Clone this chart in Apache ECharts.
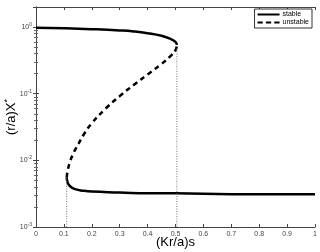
<!DOCTYPE html>
<html>
<head>
<meta charset="utf-8">
<script src="https://cdn.jsdelivr.net/npm/echarts@6/dist/echarts.min.js"></script>
<style>
html,body{margin:0;padding:0;background:#fff;}
#main{width:320px;height:252px;}
</style>
</head>
<body>
<div id="main"></div>
<script>
// x ticks
var xTicks = [0, 0.1, 0.2, 0.3, 0.4, 0.5, 0.6, 0.7, 0.8, 0.9, 1];
// upper stable branch
var stableUpX = [0, 0.1, 0.2, 0.3, 0.35, 0.4, 0.45, 0.48, 0.5, 0.505];
var stableUpY = [0.98, 0.96, 0.93, 0.89, 0.86, 0.81, 0.74, 0.67, 0.6, 0.54];
// lower stable branch
var stableLowX = [0.11, 0.112, 0.116, 0.125, 0.14, 0.17, 0.2, 0.3, 0.4, 0.5, 0.7, 0.9, 1];
var stableLowY = [0.0055, 0.0049, 0.0044, 0.0040, 0.0037, 0.0035, 0.0034, 0.0033, 0.0032, 0.0032, 0.0031, 0.0031, 0.0031];
// unstable branch
var unstableX = [0.11, 0.113, 0.12, 0.133, 0.15, 0.17, 0.2, 0.25, 0.3, 0.35, 0.4, 0.45, 0.48, 0.5, 0.505];
var unstableY = [0.0055, 0.0068, 0.009, 0.0125, 0.017, 0.024, 0.036, 0.06, 0.092, 0.135, 0.195, 0.28, 0.36, 0.45, 0.54];
// fold points (dotted guides)
var foldX = [0.11, 0.505];
var foldY = [0.0055, 0.54];

function zip(a, b) { return a.map(function (v, i) { return [v, b[i]]; }); }

var chart = echarts.init(document.getElementById('main'));
var font = 'Liberation Sans, Arial, sans-serif';
var supRich = {
  b: { fontSize: 7, color: '#444', fontFamily: font },
  s: { fontSize: 5, color: '#444', fontFamily: font, verticalAlign: 'top', padding: [0, 0, 5, 0] }
};
var axLine = { show: true, lineStyle: { color: '#444', width: 1 } };
var axTick = { show: true, inside: true, length: 3, lineStyle: { color: '#444' } };

var option = {
  animation: false,
  backgroundColor: '#fff',
  grid: { left: 36, right: 5, top: 7, bottom: 25, containLabel: false, outerBoundsMode: 'none' },
  legend: {
    right: 8, top: 9,
    orient: 'vertical',
    itemWidth: 22, itemHeight: 6, itemGap: 1,
    padding: [2, 3, 2, 3],
    borderColor: '#000', borderWidth: 0.8,
    backgroundColor: '#fff',
    textStyle: { fontSize: 7, color: '#000', fontFamily: font, padding: [0, 0, 0, -2] },
    data: [
      { name: 'stable', icon: 'path://M0,0H22V2H0Z' },
      { name: 'unstable', icon: 'path://M0,0H5V2H0ZM8,0H13V2H8ZM16,0H21V2H16Z' }
    ]
  },
  xAxis: [{
    type: 'value', min: 0, max: 1, interval: 0.1,
    name: '(Kr/a)s', nameLocation: 'middle', nameGap: 9, nameMoveOverlap: false,
    nameTextStyle: { fontSize: 13, color: '#000', fontFamily: font },
    axisLine: axLine, axisTick: axTick,
    axisLabel: { fontSize: 7, color: '#444', fontFamily: font, margin: 4,
      formatter: function (v) { return xTicks.indexOf(+v.toFixed(1)) >= 0 ? String(+v.toFixed(1)) : ''; } },
    splitLine: { show: false }
  }, {
    type: 'value', min: 0, max: 1, interval: 0.1, position: 'top',
    axisLine: axLine, axisTick: axTick,
    axisLabel: { show: false }, splitLine: { show: false }
  }],
  yAxis: [{
    type: 'log', logBase: 10, min: 0.001, max: 2, interval: 1,
    name: '{a|(r/a)X}{s|*}', nameLocation: 'middle', nameGap: 16, nameMoveOverlap: false,
    nameTextStyle: {
      rich: {
        a: { fontSize: 13, color: '#000', fontFamily: font },
        s: { fontSize: 9, color: '#000', fontFamily: font, verticalAlign: 'top', padding: [0, 0, 8, 0] }
      }
    },
    axisLine: axLine, axisTick: axTick,
    minorTick: { show: true, splitNumber: 9, length: 2, lineStyle: { color: '#666' } },
    axisLabel: { margin: 4, showMaxLabel: false, rich: supRich,
      formatter: function (v) {
        var e = Math.round(Math.log10(v));
        if (Math.abs(Math.log10(v) - e) > 1e-6) return '';
        return '{b|10}{s|' + e + '}';
      } },
    splitLine: { show: false }
  }, {
    type: 'log', logBase: 10, min: 0.001, max: 2, interval: 1, position: 'right',
    axisLine: axLine, axisTick: axTick,
    minorTick: { show: true, splitNumber: 9, length: 2, lineStyle: { color: '#666' } },
    axisLabel: { show: false }, splitLine: { show: false }
  }],
  series: [{
    name: 'stable', type: 'line', showSymbol: false, smooth: true,
    data: zip(stableUpX, stableUpY),
    lineStyle: { color: '#000', width: 2.5 }, itemStyle: { color: '#000' }
  }, {
    name: 'stable', type: 'line', showSymbol: false, smooth: true,
    data: zip(stableLowX, stableLowY),
    lineStyle: { color: '#000', width: 2.5 }, itemStyle: { color: '#000' }
  }, {
    name: 'unstable', type: 'line', showSymbol: false, smooth: true,
    data: zip(unstableX, unstableY),
    lineStyle: { color: '#000', width: 2.5, type: [5, 4] }, itemStyle: { color: '#000' }
  }, {
    name: 'fold1', type: 'line', showSymbol: false,
    data: [[foldX[0], 0.001], [foldX[0], foldY[0]]],
    lineStyle: { color: '#777', width: 1, type: [1, 1.5] }
  }, {
    name: 'fold2', type: 'line', showSymbol: false,
    data: [[foldX[1], 0.001], [foldX[1], foldY[1]]],
    lineStyle: { color: '#777', width: 1, type: [1, 1.5] }
  }]
};
chart.setOption(option);
</script>
</body>
</html>
